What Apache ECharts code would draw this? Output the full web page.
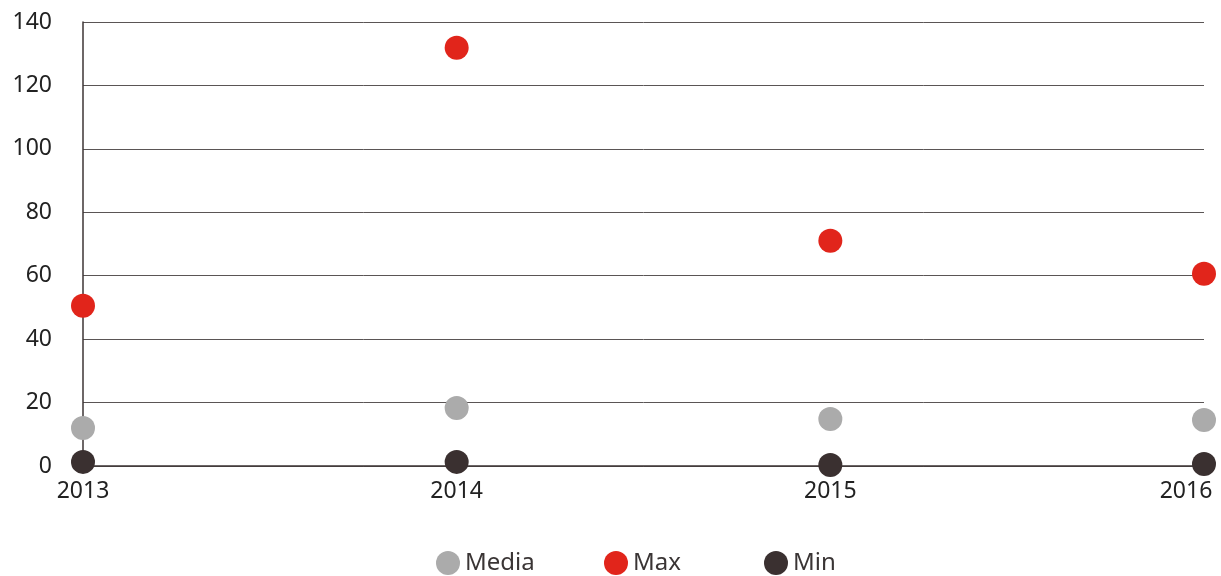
<!DOCTYPE html>
<html>
<head>
<meta charset="utf-8">
<script src="https://cdn.jsdelivr.net/npm/echarts@6/dist/echarts.min.js"></script>
<style>html,body{margin:0;padding:0;background:#fff}#c{width:1221px;height:576px}</style>
</head>
<body>
<div id="c"></div>
<script>
const categories = ['2013', '2014', '2015', '2016'];
const mediaValues = [12, 18.3, 14.8, 14.5];
const maxValues = [50.5, 131.9, 71, 60.6];
const minValues = [1.3, 1.3, 0.3, 0.6];
const yTicks = { min: 0, max: 140, interval: 20 };
const seriesNames = ['Media', 'Max', 'Min'];

const chart = echarts.init(document.getElementById('c'));
const font = 'Noto Sans';
function s(name, data, color) {
  return { name, type: 'scatter', data, symbolSize: 24, itemStyle: { color, opacity: 1 }, z: 3 };
}
const legendLefts = [436, 604, 764];
const lastCat = categories[categories.length - 1];
chart.setOption({
  animation: false,
  textStyle: { fontFamily: font },
  grid: { left: 83, right: 17, top: 22, bottom: 110, outerBoundsMode: 'none', containLabel: false },
  legend: seriesNames.map((n, i) => ({
    top: 551, left: legendLefts[i], itemWidth: 24, itemHeight: 24, padding: 0,
    icon: 'circle',
    textStyle: { fontSize: 24, color: '#3a3535', fontFamily: font },
    data: [n]
  })),
  xAxis: {
    type: 'category', data: categories, boundaryGap: false,
    axisLine: { lineStyle: { color: '#3d3535', width: 1.5 } },
    axisTick: { show: false },
    axisLabel: {
      fontSize: 23, color: '#222', margin: 14,
      formatter: v => v === lastCat ? '{last|' + v + '}' : v,
      rich: { last: { fontSize: 23, color: '#222', fontFamily: font, padding: [0, 36, 0, 0] } }
    },
    splitLine: { show: false }
  },
  yAxis: {
    type: 'value', min: yTicks.min, max: yTicks.max, interval: yTicks.interval,
    axisLine: { show: true, lineStyle: { color: '#3d3535', width: 1.5 } },
    axisTick: { show: false },
    axisLabel: { fontSize: 23, color: '#222', margin: 31 },
    splitLine: { lineStyle: { color: '#5a5555', width: 1 } }
  },
  series: [
    s('Media', mediaValues, '#ababab'),
    s('Max', maxValues, '#e1251b'),
    s('Min', minValues, '#3a3030')
  ]
});
</script>
</body>
</html>
